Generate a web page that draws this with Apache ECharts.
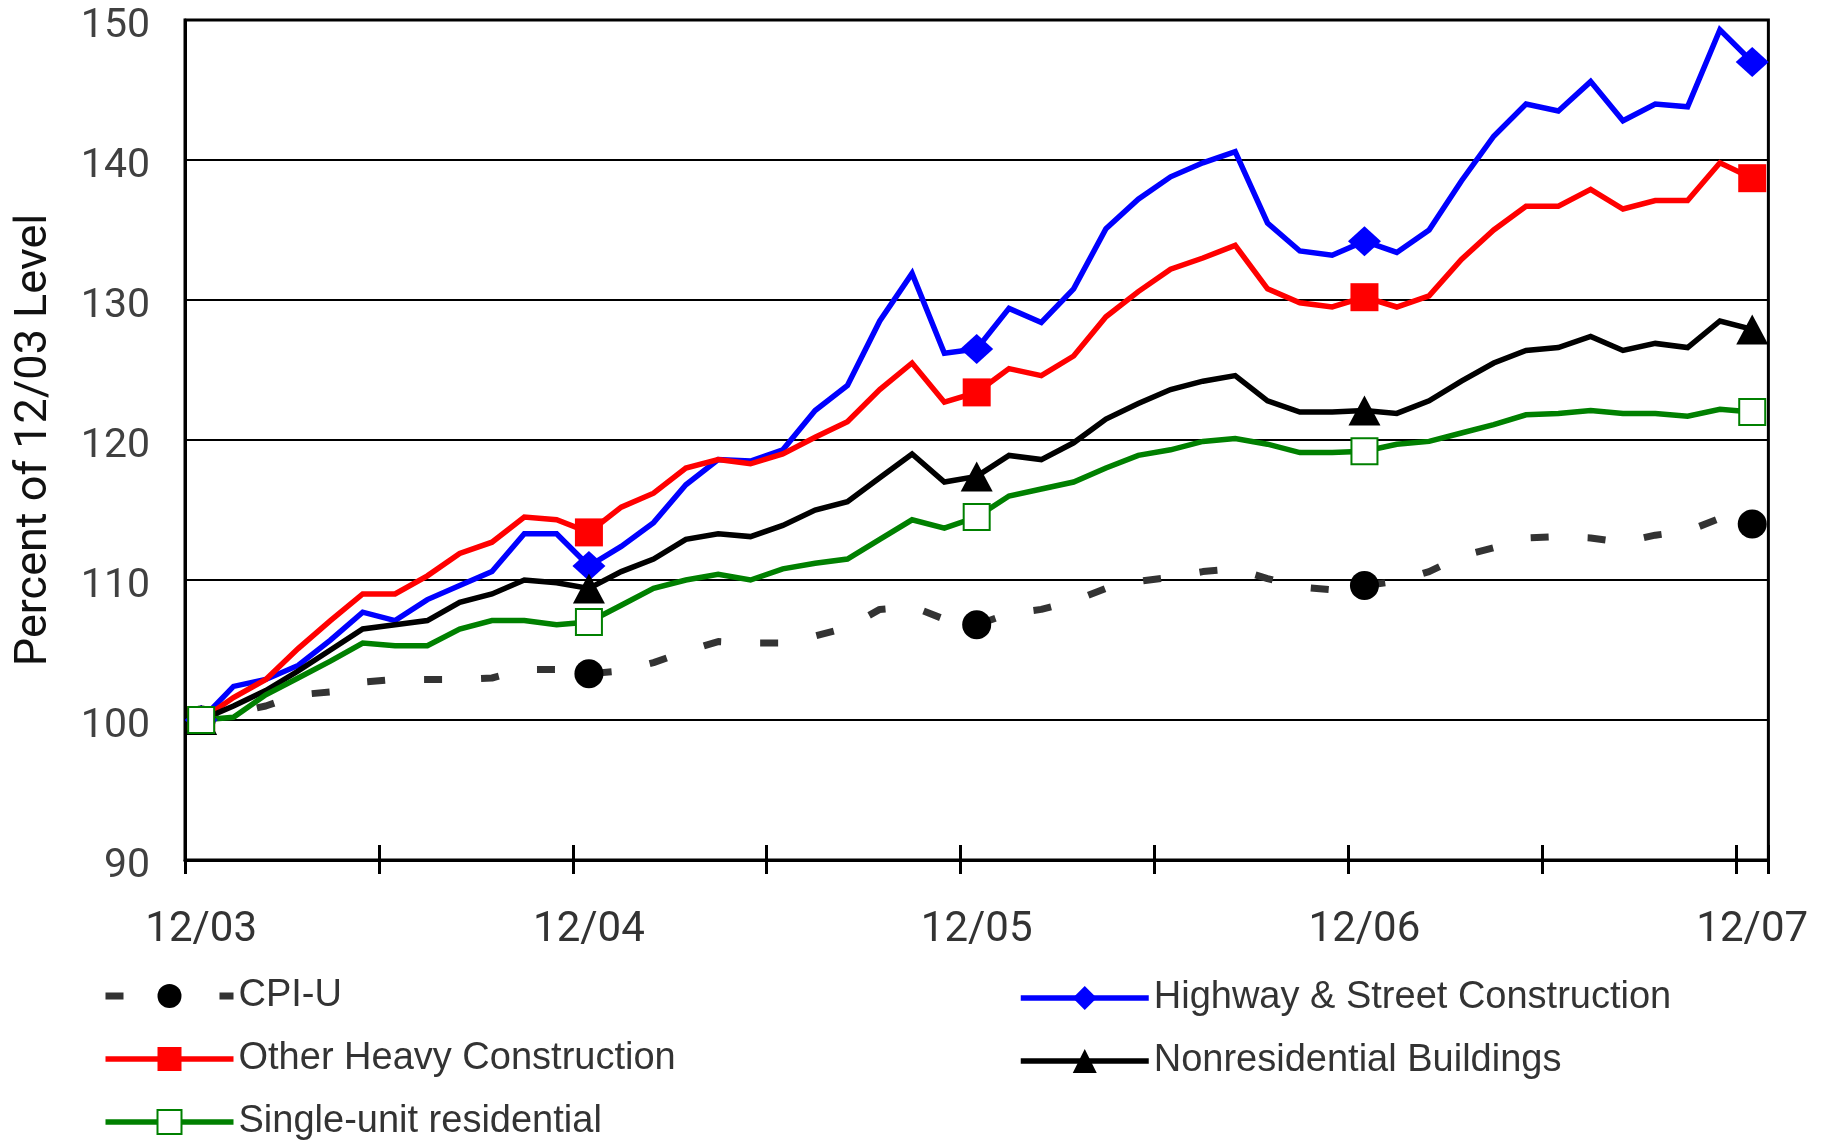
<!DOCTYPE html>
<html>
<head>
<meta charset="utf-8">
<title>Construction cost indexes vs CPI-U</title>
<script src="https://cdn.jsdelivr.net/npm/echarts@6/dist/echarts.min.js"></script>
<style>
  html, body { margin: 0; padding: 0; background: #fff; }
  #chart { width: 1811px; height: 1140px; overflow: hidden; }
</style>
</head>
<body>
<div id="chart"></div>
<script>
// Months from December 2003 through December 2007
const months = [
  '12/03',
  '01/04','02/04','03/04','04/04','05/04','06/04','07/04','08/04','09/04','10/04','11/04','12/04',
  '01/05','02/05','03/05','04/05','05/05','06/05','07/05','08/05','09/05','10/05','11/05','12/05',
  '01/06','02/06','03/06','04/06','05/06','06/06','07/06','08/06','09/06','10/06','11/06','12/06',
  '01/07','02/07','03/07','04/07','05/07','06/07','07/07','08/07','09/07','10/07','11/07','12/07'
];

// Index values, percent of the December 2003 level
const cpiU = [
  100.0,
  100.5, 101.0, 101.8, 102.0, 102.7, 102.9, 102.9, 102.9, 103.0, 103.6, 103.6, 103.3,
  103.5, 104.1, 104.9, 105.6, 105.5, 105.5, 106.0, 106.6, 107.9, 108.1, 107.2, 106.8,
  107.6, 107.9, 108.5, 109.4, 109.9, 110.2, 110.6, 110.8, 110.1, 109.5, 109.3, 109.6,
  109.9, 110.6, 111.7, 112.3, 113.0, 113.1, 113.0, 112.7, 113.2, 113.5, 114.4, 114.0
];
const highwayStreet = [
  100.0,
  102.4, 102.9, 103.9, 105.7, 107.7, 107.1, 108.6, 109.6, 110.6, 113.3, 113.3, 111.0,
  112.4, 114.1, 116.8, 118.6, 118.5, 119.3, 122.1, 123.9, 128.5, 131.9, 126.2, 126.5,
  129.4, 128.4, 130.8, 135.1, 137.2, 138.8, 139.8, 140.6, 135.5, 133.5, 133.2, 134.2,
  133.4, 135.0, 138.5, 141.7, 144.0, 143.5, 145.6, 142.8, 144.0, 143.8, 149.3, 147.0
];
const otherHeavy = [
  100.0,
  101.6, 102.9, 105.1, 107.1, 109.0, 109.0, 110.3, 111.9, 112.7, 114.5, 114.3, 113.4,
  115.2, 116.2, 118.0, 118.6, 118.3, 119.0, 120.2, 121.3, 123.6, 125.5, 122.7, 123.4,
  125.1, 124.6, 126.0, 128.8, 130.6, 132.2, 133.0, 133.9, 130.8, 129.8, 129.5, 130.2,
  129.5, 130.3, 132.9, 135.0, 136.7, 136.7, 137.9, 136.5, 137.1, 137.1, 139.8, 138.7
];
const nonresidential = [
  100.0,
  101.0, 102.1, 103.5, 105.0, 106.5, 106.8, 107.1, 108.4, 109.0, 110.0, 109.8, 109.4,
  110.6, 111.5, 112.9, 113.3, 113.1, 113.9, 115.0, 115.6, 117.3, 119.0, 117.0, 117.4,
  118.9, 118.6, 119.8, 121.5, 122.6, 123.6, 124.2, 124.6, 122.8, 122.0, 122.0, 122.1,
  121.9, 122.8, 124.2, 125.5, 126.4, 126.6, 127.4, 126.4, 126.9, 126.6, 128.5, 127.9
];
const singleUnit = [
  100.0,
  100.2, 101.8, 103.0, 104.2, 105.5, 105.3, 105.3, 106.5, 107.1, 107.1, 106.8, 107.0,
  108.2, 109.4, 110.0, 110.4, 110.0, 110.8, 111.2, 111.5, 112.9, 114.3, 113.7, 114.5,
  116.0, 116.5, 117.0, 118.0, 118.9, 119.3, 119.9, 120.1, 119.7, 119.1, 119.1, 119.2,
  119.7, 119.9, 120.5, 121.1, 121.8, 121.9, 122.1, 121.9, 121.9, 121.7, 122.2, 122.0
];

const seriesNames = [
  'CPI-U',
  'Highway & Street Construction',
  'Other Heavy Construction',
  'Nonresidential Buildings',
  'Single-unit residential'
];

// Markers only on the December points
const markEvery = 12;
const sizeOnDecember = size => (value, params) =>
  params.dataIndex % markEvery === 0 ? size : 0;

const solidLine = { width: 5.5 };
const cpiLine = { color: '#333333', width: 7, type: [18, 39], cap: 'butt' };

function lineSeries(name, data, color, symbol, size, extra) {
  return Object.assign({
    type: 'line',
    name: name,
    data: data,
    xAxisIndex: 0,
    yAxisIndex: 0,
    symbol: symbol,
    symbolSize: sizeOnDecember(size),
    showSymbol: true,
    showAllSymbol: true,
    smooth: false,
    lineStyle: { color: color, width: solidLine.width, cap: 'butt', join: 'miter' },
    itemStyle: { color: color, borderWidth: 0 },
    emphasis: { disabled: true }
  }, extra || {});
}

const legendText = {
  fontFamily: '"Liberation Sans", Arial, sans-serif',
  fontSize: 38,
  lineHeight: 38,
  color: '#333333'
};
const legendBase = {
  orient: 'vertical',
  itemWidth: 128,
  itemHeight: 30,
  itemGap: 25,
  height: 220,
  selectedMode: false,
  textStyle: legendText,
  padding: 0
};
const legendItem = name => ({
  name: name,
  lineStyle: name === seriesNames[0] ? cpiLine : solidLine
});

const chart = echarts.init(document.getElementById('chart'), null, { renderer: 'canvas' });

chart.setOption({
  animation: false,
  backgroundColor: '#ffffff',
  grid: {
    left: 185,
    right: 33,
    top: 20,
    bottom: 280,
    show: true,
    borderColor: '#000000',
    borderWidth: 3,
    backgroundColor: 'transparent'
  },
  xAxis: [
    {
      type: 'category',
      data: months,
      boundaryGap: true,
      position: 'bottom',
      axisLine: { show: true, lineStyle: { color: '#000000', width: 3 } },
      axisTick: { show: true, interval: 5, length: 14, lineStyle: { color: '#000000', width: 3 } },
      axisLabel: {
        interval: 11,
        margin: 49,
        fontFamily: 'Roboto, sans-serif',
        fontSize: 42,
        color: '#333333'
      },
      splitLine: { show: false }
    },
    {
      // inner half of the crossing tick marks
      type: 'category',
      data: months,
      boundaryGap: true,
      position: 'bottom',
      offset: 0,
      axisLine: { show: false },
      axisTick: { show: true, inside: true, interval: 5, length: 15, lineStyle: { color: '#000000', width: 3 } },
      axisLabel: { show: false },
      splitLine: { show: false }
    }
  ],
  yAxis: {
    type: 'value',
    min: 90,
    max: 150,
    interval: 10,
    name: 'Percent of 12/03 Level',
    nameLocation: 'middle',
    nameRotate: 90,
    nameGap: 128,
    nameTextStyle: {
      fontFamily: 'Roboto, sans-serif',
      fontSize: 45,
      color: '#111111'
    },
    axisLine: { show: true, lineStyle: { color: '#000000', width: 3 } },
    axisTick: { show: false },
    axisLabel: {
      margin: 35,
      fontFamily: 'Roboto, sans-serif',
      fontSize: 41,
      color: '#404040',
      verticalAlign: 'top',
      lineHeight: 13
    },
    splitLine: { show: true, lineStyle: { color: '#000000', width: 2.2 } }
  },
  legend: [
    Object.assign({}, legendBase, {
      left: 102,
      top: 977,
      data: [seriesNames[0], seriesNames[2], seriesNames[4]].map(legendItem)
    }),
    Object.assign({}, legendBase, {
      left: 1018,
      top: 979,
      data: [seriesNames[1], seriesNames[3]].map(legendItem)
    })
  ],
  series: [
    lineSeries(seriesNames[0], cpiU, '#333333', 'circle', 29, {
      lineStyle: cpiLine,
      itemStyle: { color: '#000000', borderWidth: 0 }
    }),
    lineSeries(seriesNames[1], highwayStreet, '#0000ff', 'diamond', [33, 30]),
    lineSeries(seriesNames[2], otherHeavy, '#ff0000', 'rect', 28),
    lineSeries(seriesNames[3], nonresidential, '#000000', 'triangle', [32, 30]),
    lineSeries(seriesNames[4], singleUnit, '#008000', 'emptyRect', 26, {
      itemStyle: { color: '#008000', borderWidth: 3 }
    })
  ]
});
</script>
</body>
</html>
